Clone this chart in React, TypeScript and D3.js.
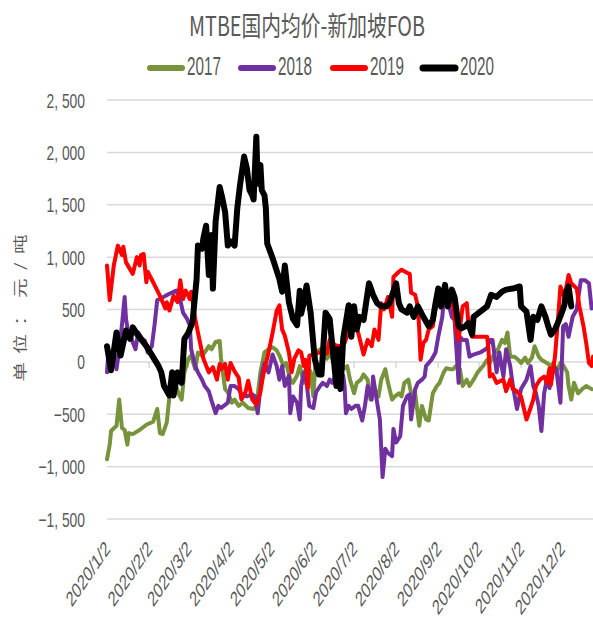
import * as d3 from 'd3'

// [days since 2020/1/2, spread in 元/吨]
const s2017: [number, number][] = [
  [0, -930], [2, -790], [3, -660], [7, -610], [9, -360], [11, -630], [13, -650], [15, -790], [16, -680], [19, -690],
  [24, -650], [29, -600], [34, -570], [37, -450], [39, -680], [41, -690], [44, -580], [46, -330], [48, -290], [50, -200],
  [53, -310], [55, -360], [57, -100], [60, 30], [62, 60], [65, -70], [67, 90], [70, 60], [72, 90], [75, 150],
  [77, 120], [80, 190], [83, 200], [84, 30], [87, -260], [89, -290], [92, -390], [94, -360], [97, -420], [100, -390],
  [104, -440], [108, -450], [110, -420], [113, -100], [116, 90], [119, 120], [122, 140], [125, 110], [127, 60], [130, -40],
  [132, -10], [135, -170], [137, -200], [140, -130], [142, -40], [145, -200], [147, -10], [150, -100], [152, -330], [154, 90],
  [157, 120], [159, 90], [162, 30], [164, 90], [167, -10], [169, 120], [172, 30], [174, -70], [177, -40], [179, -170],
  [182, -300], [184, -200], [187, -170], [189, -120], [192, -170], [194, -360], [197, -260], [200, -330], [202, -170], [205, -70],
  [207, -200], [210, -360], [212, -330], [215, -300], [217, -330], [219, -200], [222, -170], [225, -360], [227, -300], [230, -610],
  [232, -420], [235, -550], [237, -560], [240, -300], [243, -230], [245, -200], [248, -100], [250, -60], [253, -70], [255, -70],
  [257, -40], [260, -70], [262, -230], [265, -170], [267, -230], [270, -170], [273, -100], [277, -40], [280, 20], [282, -10],
  [284, 50], [288, 120], [291, 210], [293, 180], [295, 280], [297, 50], [300, 50], [303, 20], [305, -10], [308, 40],
  [310, -10], [313, 40], [315, 150], [318, 50], [320, 20], [324, -10], [327, -40], [329, -10], [331, -100], [334, -10],
  [336, -30], [339, -100], [340, -230], [342, -360], [344, -200], [347, -300], [350, -260], [353, -230], [357, -260],
]

const s2018: [number, number][] = [
  [0, -100], [1, 90], [3, 30], [5, 90], [7, -70], [9, 120], [11, 350], [13, 620], [14, 410], [16, 250],
  [18, 220], [21, 120], [23, 280], [26, 220], [28, 200], [30, 90], [33, 150], [35, 350], [37, 590], [39, 600],
  [43, 630], [46, 650], [51, 680], [54, 590], [56, 470], [59, 410], [61, 350], [62, 120], [65, -40], [67, -100],
  [70, -170], [72, -230], [75, -280], [77, -370], [80, -490], [82, -420], [84, -440], [87, -410], [89, -390], [91, -230],
  [94, -230], [97, -260], [99, -310], [103, -330], [107, -310], [109, -330], [111, -490], [114, -130], [116, -10], [119, -100],
  [122, 70], [125, -40], [127, -170], [129, -40], [131, -230], [134, -130], [135, -490], [137, -330], [140, -390], [142, -550],
  [143, -230], [145, -100], [147, -200], [149, -420], [152, -440], [154, -290], [157, -230], [159, -200], [162, -230], [164, -170],
  [166, -200], [169, -100], [172, -200], [174, -130], [175, -230], [176, -490], [178, -420], [180, -450], [183, -420], [185, -420],
  [188, -560], [190, -420], [192, -230], [195, -360], [196, -140], [199, -390], [201, -550], [203, -1100], [205, -830], [207, -870],
  [210, -900], [211, -640], [213, -770], [216, -710], [218, -420], [221, -330], [223, -310], [224, -550], [227, -260], [229, -200],
  [232, -170], [234, -140], [235, -40], [237, -10], [239, 20], [242, 90], [244, 240], [247, 430], [248, 590], [250, 620],
  [252, 530], [254, 430], [256, 400], [259, -200], [260, 240], [262, 210], [265, 210], [267, 50], [270, 70], [275, 90],
  [280, 130], [282, 210], [284, 210], [287, -100], [289, 90], [292, -140], [294, 120], [297, -40], [299, -230], [302, -450],
  [305, -260], [309, -170], [312, -40], [314, -230], [316, -300], [318, -420], [320, -660], [322, -300], [324, -170], [326, -250],
  [329, -40], [331, -70], [334, -390], [336, 340], [338, 360], [340, 240], [343, 430], [346, 500], [349, 780], [352, 780],
  [355, 750], [357, 510],
]

const s2019: [number, number][] = [
  [0, 920], [2, 590], [5, 920], [8, 1110], [11, 1020], [12, 1100], [14, 950], [19, 840], [22, 1000], [24, 920],
  [25, 1020], [27, 1030], [29, 760], [30, 860], [34, 760], [39, 630], [43, 510], [44, 570], [46, 490], [49, 630],
  [52, 570], [54, 780], [56, 600], [58, 680], [61, 600], [62, 670], [65, 410], [67, 280], [71, 30], [75, -100],
  [78, -50], [81, -170], [83, -20], [84, -70], [87, -20], [89, -170], [91, -10], [94, -90], [97, -150], [99, -360],
  [102, -290], [104, -180], [107, -360], [110, -410], [113, -290], [115, -130], [119, 90], [122, 280], [125, 490], [127, 540],
  [129, 310], [131, 250], [134, 90], [136, -100], [138, 30], [141, 110], [143, 90], [145, -40], [146, 20], [148, -250],
  [149, 60], [152, 70], [156, 90], [162, 80], [164, 210], [168, 160], [172, 150], [175, 180], [178, 290], [181, 370],
  [185, 280], [189, 70], [192, 210], [195, 150], [197, 310], [200, 210], [202, 560], [204, 500], [207, 620], [210, 430],
  [211, 810], [215, 860], [217, 880], [221, 850], [223, 840], [224, 660], [227, 640], [229, 530], [230, 310], [231, 20],
  [233, 180], [235, 210], [237, 310], [240, 340], [243, 610], [245, 620], [248, 660], [250, 580], [252, 590], [255, 530],
  [257, 340], [259, 210], [260, 320], [262, 530], [265, 560], [266, 400], [269, 240], [280, 240], [281, 120], [282, -140],
  [284, -120], [287, -200], [292, -170], [294, -280], [297, -170], [299, -260], [302, -280], [305, -330], [309, -550], [312, -440],
  [314, -360], [316, -230], [319, -170], [322, -140], [324, -200], [326, -60], [327, -220], [330, 50], [332, 370], [334, 720],
  [337, 620], [340, 830], [342, 750], [346, 700], [348, 530], [351, 340], [353, 180], [355, -10], [357, -40], [358, 50],
]

const s2020: [number, number][] = [
  [0, 150], [3, -80], [7, 280], [10, 60], [14, 300], [17, 220], [19, 330], [22, 270], [29, 150], [38, -40],
  [40, -100], [42, -230], [46, -320], [48, -100], [49, -320], [52, -100], [55, -200], [57, 220], [60, 280], [63, 380],
  [66, 790], [67, 1110], [70, 1080], [71, 1180], [73, 1300], [75, 830], [77, 1210], [78, 700], [80, 1340], [83, 1670],
  [85, 1560], [87, 1430], [89, 1110], [91, 1150], [94, 1110], [96, 1470], [98, 1690], [101, 1960], [103, 1850], [105, 1640],
  [107, 1590], [108, 1550], [110, 2150], [111, 1700], [113, 1880], [114, 1640], [116, 1590], [117, 1470], [118, 1130], [122, 990],
  [127, 790], [129, 670], [131, 920], [134, 570], [137, 410], [140, 350], [142, 680], [143, 460], [145, 570], [147, 730],
  [150, 470], [153, 30], [156, -120], [158, -120], [161, 470], [164, 410], [167, 30], [169, -230], [170, 120], [172, -260],
  [174, 220], [178, 540], [180, 240], [182, 530], [184, 310], [186, 430], [189, 400], [193, 750], [196, 640], [199, 560],
  [202, 530], [206, 530], [208, 560], [213, 750], [215, 560], [217, 500], [221, 470], [223, 530], [226, 430], [229, 530],
  [233, 430], [237, 340], [240, 400], [242, 560], [244, 700], [246, 530], [249, 735], [251, 530], [254, 690], [256, 620],
  [259, 340], [261, 320], [264, 340], [266, 370], [269, 260], [270, 430], [275, 480], [280, 530], [283, 640], [287, 620],
  [291, 670], [294, 690], [299, 700], [304, 720], [305, 530], [309, 480], [312, 210], [314, 430], [317, 400], [320, 530],
  [323, 430], [325, 340], [327, 260], [330, 310], [332, 370], [335, 470], [337, 545], [338, 660], [340, 720], [342, 530],
]

const seriesNames = ['2017', '2018', '2019', '2020']
const seriesColors = ['#77933C', '#7030A0', '#FF0000', '#000000']
const seriesData = [s2017, s2018, s2019, s2020]
const yTickValues = [-1500, -1000, -500, 0, 500, 1000, 1500, 2000, 2500]
const xTickLabels = [
  '2020/1/2', '2020/2/2', '2020/3/2', '2020/4/2', '2020/5/2', '2020/6/2',
  '2020/7/2', '2020/8/2', '2020/9/2', '2020/10/2', '2020/11/2', '2020/12/2',
]

const W = 593
const H = 620
const latin = "'Liberation Sans', Arial, sans-serif"
const cjk = "'Noto Sans CJK SC', 'Liberation Sans', sans-serif"
const grey = '#595959'

const start = new Date(2020, 0, 2)
const toDate = (d: number) => d3.timeDay.offset(start, d)
const parse = d3.timeParse('%Y/%m/%d')

const App = () => {
  const x = d3.scaleTime().domain([start, toDate(358)]).range([107, 593])
  const y = d3.scaleLinear().domain([-1500, 2500]).range([519, 100])
  const line = d3
    .line<[number, number]>()
    .x(p => x(toDate(p[0])))
    .y(p => y(p[1]))
  const fmt = (v: number) => d3.format(',')(v).replace(',', ', ')

  const legendX = [147, 238, 330, 420]

  return (
    <svg width={W} height={H} style={{ position: 'absolute', left: 0, top: 0, background: '#fff' }}>
      <text
        x={189}
        y={36}
        textLength={236}
        lengthAdjust="spacingAndGlyphs"
        fontFamily={cjk}
        fontSize={27}
        fill={grey}
      >
        MTBE国内均价-新加坡FOB
      </text>

      {seriesNames.map((name, i) => (
        <g key={name}>
          <line
            x1={legendX[i] + 3}
            x2={legendX[i] + 35}
            y1={68}
            y2={68}
            stroke={seriesColors[i]}
            strokeWidth={i === 3 ? 7 : 6}
            strokeLinecap="round"
          />
          <g transform={`translate(${legendX[i] + 40},75) scale(0.61,1)`}>
            <text fontFamily={latin} fontSize={25} fill={grey}>
              {name}
            </text>
          </g>
        </g>
      ))}

      {yTickValues.map(v => (
        <g key={v}>
          <line x1={107} x2={W} y1={y(v)} y2={y(v)} stroke="#d9d9d9" strokeWidth={1.5} />
          <g transform={`translate(85,${y(v) + 7.5}) scale(0.66,1)`}>
            <text textAnchor="end" fontFamily={latin} fontSize={21} fill={grey}>
              {fmt(v)}
            </text>
          </g>
        </g>
      ))}

      {xTickLabels.map(t => {
        const tx = x(parse(t) as Date)
        return (
          <g key={t}>
            <line x1={tx} x2={tx} y1={y(0)} y2={y(0) + 6} stroke="#d9d9d9" strokeWidth={1.5} />
            <g transform={`translate(${tx + 4},550) scale(0.68,1) rotate(-45)`}>
              <text textAnchor="end" fontFamily={latin} fontSize={21} fill={grey}>
                {t}
              </text>
            </g>
          </g>
        )
      })}

      <g transform="translate(19,308) rotate(-90) scale(1.15,0.8)">
        <text
          textAnchor="middle"
          dominantBaseline="central"
          textLength={128}
          lengthAdjust="spacing"
          fontFamily={cjk}
          fontSize={17}
          fill={grey}
        >
          单位：元/吨
        </text>
      </g>

      {seriesData.map((data, i) => (
        <path
          key={seriesNames[i]}
          d={line(data) ?? ''}
          fill="none"
          stroke={seriesColors[i]}
          strokeWidth={i === 3 ? 6 : 4}
          strokeLinejoin="round"
          strokeLinecap="round"
        />
      ))}
    </svg>
  )
}

export default App
